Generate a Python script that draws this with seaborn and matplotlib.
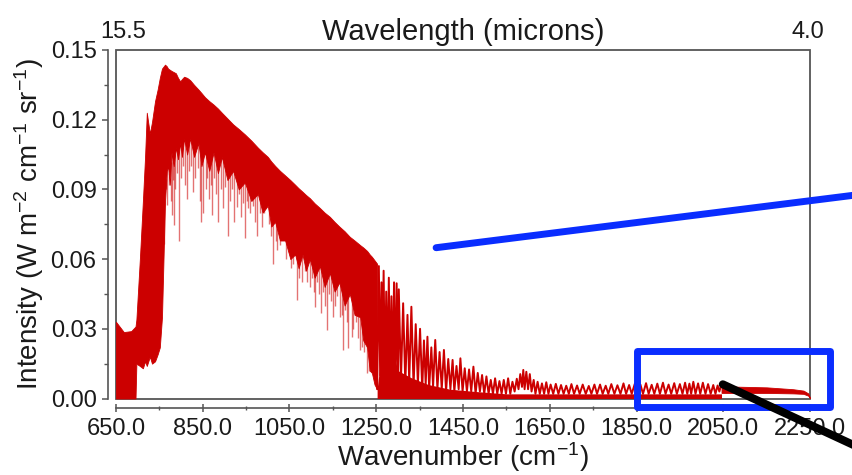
import numpy as np
import matplotlib
matplotlib.use("Agg")
import matplotlib.pyplot as plt
from matplotlib.patches import Rectangle, ConnectionPatch
from matplotlib.ticker import FixedLocator, FormatStrFormatter
from matplotlib.transforms import blended_transform_factory
import seaborn as sns

# ---- spectrum: dense emission band (650-1252 cm-1) ----
core_wn = [650, 668, 685, 695, 697, 705, 712, 717, 721, 728, 733, 740, 746, 751, 756,
           763, 767, 770, 774, 778, 783, 788, 793, 798, 802, 807, 814, 821, 830, 840,
           847, 855, 865, 875, 885, 894, 907, 920, 933, 947, 962, 977, 988, 1000, 1008,
           1017, 1028, 1040, 1052, 1063, 1071, 1080, 1088, 1097, 1108, 1120, 1131, 1143,
           1154, 1165, 1177, 1189, 1200, 1213, 1220, 1229, 1235, 1240, 1246, 1252]
core_top = [0.033, 0.0286, 0.029, 0.031, 0.034, 0.060, 0.085, 0.104, 0.123, 0.114, 0.119,
            0.128, 0.133, 0.138, 0.142, 0.1437, 0.143, 0.142, 0.1415, 0.141, 0.1405,
            0.140, 0.138, 0.1365, 0.1375, 0.1385, 0.138, 0.137, 0.135, 0.133, 0.1315,
            0.1297, 0.128, 0.1265, 0.1248, 0.123, 0.1205, 0.118, 0.116, 0.1137, 0.111,
            0.108, 0.106, 0.104, 0.102, 0.1001, 0.098, 0.096, 0.094, 0.092, 0.0905, 0.089,
            0.0876, 0.0862, 0.084, 0.082, 0.080, 0.0782, 0.076, 0.074, 0.072, 0.0696,
            0.068, 0.066, 0.065, 0.0635, 0.062, 0.061, 0.0595, 0.058]
core_bot = [0.0, 0.0, 0.0, 0.0, 0.015, 0.014, 0.013, 0.016, 0.014, 0.018, 0.015, 0.016,
            0.019, 0.022, 0.035, 0.085, 0.098, 0.100, 0.092, 0.106, 0.100, 0.108, 0.103,
            0.110, 0.104, 0.112, 0.105, 0.112, 0.104, 0.110, 0.100, 0.106, 0.098, 0.106,
            0.097, 0.104, 0.094, 0.098, 0.090, 0.093, 0.085, 0.088, 0.080, 0.083, 0.074,
            0.076, 0.068, 0.068, 0.060, 0.062, 0.056, 0.062, 0.055, 0.060, 0.052, 0.057,
            0.048, 0.054, 0.046, 0.050, 0.040, 0.045, 0.036, 0.035, 0.025, 0.022, 0.012,
            0.011, 0.006, 0.004]

# ---- absorption lines cutting below the band ----
dip_wn = [760, 765, 768, 773, 776, 778, 781, 783, 786, 791, 796, 801, 805, 809, 814, 818,
          822, 828, 833, 838, 843, 847, 851, 857, 860, 864, 868, 871, 876, 880, 886, 891,
          897, 902, 908, 913, 917, 922, 928, 933, 938, 942, 948, 952, 955, 960, 965, 970,
          976, 981, 986, 991, 997, 1003, 1007, 1013, 1018, 1022, 1027, 1035, 1043, 1048,
          1053, 1058, 1067, 1072, 1078, 1085, 1090, 1097, 1102, 1106, 1109, 1114, 1118,
          1122, 1128, 1132, 1136, 1141, 1146, 1151, 1156, 1160, 1166, 1170, 1174, 1178,
          1182, 1186, 1193, 1197, 1203, 1207, 1212, 1217, 1222, 1228, 1233]
dip_min = [0.095, 0.090, 0.0833, 0.092, 0.085, 0.079, 0.094, 0.0747, 0.090, 0.097, 0.068,
           0.095, 0.100, 0.092, 0.086, 0.098, 0.100, 0.089, 0.095, 0.099, 0.085, 0.076,
           0.0798, 0.090, 0.095, 0.086, 0.092, 0.079, 0.095, 0.088, 0.076, 0.090, 0.082,
           0.091, 0.070, 0.085, 0.090, 0.076, 0.0825, 0.088, 0.078, 0.084, 0.069, 0.085,
           0.082, 0.080, 0.083, 0.076, 0.070, 0.080, 0.074, 0.080, 0.0869, 0.075, 0.070,
           0.058, 0.068, 0.064, 0.066, 0.070, 0.060, 0.063, 0.056, 0.058, 0.0424, 0.052,
           0.050, 0.055, 0.050, 0.048, 0.052, 0.046, 0.0395, 0.050, 0.045, 0.0367, 0.046,
           0.040, 0.0295, 0.045, 0.042, 0.0352, 0.040, 0.044, 0.0352, 0.036, 0.0209, 0.038,
           0.033, 0.0217, 0.0266, 0.030, 0.033, 0.026, 0.0209, 0.022, 0.020, 0.0108, 0.012]

# ---- weak line structure beyond the band (peaks and gaps) ----
tail_wn = [1252, 1256, 1259, 1262, 1264, 1267, 1270, 1273, 1276, 1279, 1282, 1285, 1288,
           1291, 1294, 1297, 1300, 1302, 1307, 1312, 1317, 1322, 1326, 1331, 1336, 1341,
           1346, 1351, 1356, 1360, 1364, 1368, 1372, 1377, 1381, 1386, 1391, 1396, 1401,
           1406, 1411, 1416, 1421, 1426, 1430, 1435, 1440, 1444, 1449, 1454, 1459, 1464,
           1469, 1474, 1479, 1484, 1489, 1494, 1499, 1504, 1509, 1514, 1519, 1524, 1529,
           1534, 1539, 1544, 1549, 1554, 1559, 1564, 1569, 1574, 1578, 1582, 1586, 1589,
           1592, 1596, 1600, 1604, 1608, 1613, 1617, 1622, 1627, 1632, 1637, 1642, 1647,
           1652, 1658, 1664, 1670, 1676, 1682, 1688, 1694, 1700, 1706, 1713, 1719, 1726,
           1733, 1740, 1746, 1753, 1759, 1766, 1772, 1779, 1785, 1792, 1799, 1806, 1813,
           1820, 1826, 1833, 1839, 1846, 1852, 1859, 1865, 1872, 1878, 1885, 1891, 1898,
           1904, 1911, 1917, 1924, 1930, 1937, 1943, 1950, 1956, 1962, 1967, 1972, 1976,
           1981, 1986, 1992, 1997, 2003, 2009, 2015, 2021, 2027, 2032, 2037, 2041, 2046]
tail_val = [0.004, 0.057, 0.010, 0.050, 0.012, 0.055, 0.008, 0.046, 0.010, 0.052, 0.007,
            0.044, 0.009, 0.050, 0.006, 0.0496, 0.006, 0.047, 0.008, 0.041, 0.006, 0.036,
            0.007, 0.0395, 0.005, 0.032, 0.006, 0.030, 0.004, 0.025, 0.006, 0.0266, 0.004,
            0.022, 0.005, 0.0252, 0.004, 0.020, 0.004, 0.0209, 0.003, 0.017, 0.004, 0.0166,
            0.003, 0.014, 0.004, 0.0173, 0.003, 0.013, 0.003, 0.0125, 0.003, 0.0137, 0.002,
            0.011, 0.003, 0.0101, 0.002, 0.0095, 0.002, 0.008, 0.002, 0.0087, 0.002, 0.0075,
            0.002, 0.008, 0.002, 0.0087, 0.002, 0.0072, 0.003, 0.0085, 0.004, 0.0105, 0.005,
            0.0123, 0.004, 0.0115, 0.004, 0.0105, 0.003, 0.008, 0.002, 0.0072, 0.002, 0.0065,
            0.002, 0.0070, 0.002, 0.006, 0.002, 0.0063, 0.002, 0.0058, 0.002, 0.0055, 0.002,
            0.0062, 0.002, 0.0056, 0.002, 0.0060, 0.002, 0.0054, 0.002, 0.0060, 0.002,
            0.006, 0.002, 0.0055, 0.002, 0.0062, 0.002, 0.0057, 0.002, 0.0065, 0.002,
            0.0058, 0.002, 0.0063, 0.002, 0.0060, 0.002, 0.0066, 0.002, 0.0059, 0.002,
            0.0064, 0.002, 0.0068, 0.002, 0.006, 0.002, 0.0066, 0.002, 0.0062, 0.002,
            0.0068, 0.002, 0.0064, 0.002, 0.0072, 0.002, 0.0065, 0.002, 0.0068, 0.002,
            0.0062, 0.002, 0.0058, 0.002, 0.0056, 0.003, 0.0062]

# solid floor under the weak lines
floor_wn = [1252, 1265, 1285, 1300, 1330, 1370, 1420, 1480, 1550, 2046]
floor_val = [0.004, 0.025, 0.022, 0.012, 0.009, 0.006, 0.004, 0.003, 0.002, 0.002]

# ---- smooth high-wavenumber end ----
end_wn = [2046, 2081, 2150, 2211, 2235, 2246, 2250]
end_top = [0.0062, 0.0051, 0.0048, 0.0040, 0.0034, 0.0022, 0.0003]
end_bot = [0.0024, 0.0024, 0.0024, 0.0022, 0.0020, 0.0012, 0.0001]

# ---- axes ----
x_ticks = [650, 850, 1050, 1250, 1450, 1650, 1850, 2050, 2250]
x_minor = [750, 950, 1150, 1350, 1550, 1750, 1950, 2150]
y_ticks = [0.00, 0.03, 0.06, 0.09, 0.12, 0.15]
y_minor = [0.015, 0.045, 0.075, 0.105, 0.135]
top_labels = ["15.5", "4.0"]

RED = "#cc0000"
BLUE = "#0a2dff"
FRAME = "#555555"
INK = "#1a1a1a"

sns.set_theme(style="ticks")
plt.rcParams["font.family"] = ["Liberation Sans", "DejaVu Sans"]
plt.rcParams["mathtext.fontset"] = "custom"
plt.rcParams["mathtext.rm"] = "Liberation Sans"
plt.rcParams["mathtext.it"] = "Liberation Sans:italic"
plt.rcParams["mathtext.bf"] = "Liberation Sans:bold"

W, H = 853, 475
fig = plt.figure(figsize=(W / 100, H / 100), dpi=100)
ax = fig.add_axes([116 / W, 1 - 398.5 / H, (810 - 116) / W, (398.5 - 50) / H])
ax.set_xlim(650, 2250)
ax.set_ylim(0, 0.15)

# spectrum
ax.fill_between(core_wn, core_bot, core_top, color=RED, lw=0.6, edgecolor=RED, zorder=3)
dip_top = np.interp(dip_wn, core_wn, core_bot) + 0.003
ax.vlines(dip_wn, dip_min, dip_top, color=RED, lw=1.0, alpha=0.55, zorder=3)
ax.fill_between(floor_wn, 0, floor_val, color=RED, lw=0, zorder=3)
sns.lineplot(x=tail_wn, y=tail_val, ax=ax, color=RED, lw=1.4, estimator=None,
             sort=False, zorder=3)
ax.fill_between(end_wn, end_bot, end_top, color=RED, lw=0.6, edgecolor=RED, zorder=3)

# frame box plus offset left/bottom axis lines
ax.add_patch(Rectangle((0, 0), 1, 1, transform=ax.transAxes, fill=False,
                       ec=FRAME, lw=1.3, clip_on=False, zorder=2))
for s in ["top", "right"]:
    ax.spines[s].set_visible(False)
ax.spines["left"].set_position(("outward", 6))
ax.spines["bottom"].set_position(("outward", 7))
for s in ["left", "bottom"]:
    ax.spines[s].set_color(FRAME)
    ax.spines[s].set_linewidth(1.2)

ax.xaxis.set_major_locator(FixedLocator(x_ticks))
ax.xaxis.set_minor_locator(FixedLocator(x_minor))
ax.yaxis.set_major_locator(FixedLocator(y_ticks))
ax.yaxis.set_minor_locator(FixedLocator(y_minor))
ax.xaxis.set_major_formatter(FormatStrFormatter("%.1f"))
ax.yaxis.set_major_formatter(FormatStrFormatter("%.2f"))
ax.tick_params(axis="x", which="major", direction="inout", length=6, width=1.1,
               color=FRAME, labelsize=17, pad=4, labelcolor=INK)
ax.tick_params(axis="x", which="minor", direction="inout", length=3.5, width=1.0,
               color=FRAME)
ax.tick_params(axis="y", which="major", direction="out", length=4, width=1.1,
               color=FRAME, labelsize=17, pad=4, labelcolor=INK)
ax.tick_params(axis="y", which="minor", direction="out", length=3, width=1.0,
               color=FRAME)

ax.set_xlabel("Wavenumber (cm$^{-1}$)", fontsize=20, labelpad=0.5, color=INK)
ax.set_ylabel("Intensity (W m$^{-2}$ cm$^{-1}$ sr$^{-1}$)", fontsize=20, labelpad=3,
              color=INK)

# wavelength scale along the top
tr = blended_transform_factory(ax.transData, ax.transAxes)
ax.annotate(top_labels[0], xy=(x_ticks[0], 1.0), xycoords=tr, xytext=(5, 9),
            textcoords="offset points", ha="center", va="baseline", fontsize=17,
            color=INK, annotation_clip=False)
ax.annotate(top_labels[1], xy=(x_ticks[-1], 1.0), xycoords=tr, xytext=(-1.5, 9),
            textcoords="offset points", ha="center", va="baseline", fontsize=17,
            color=INK, annotation_clip=False)
ax.text(0.5, 1.03, "Wavelength (microns)", transform=ax.transAxes, ha="center",
        va="baseline", fontsize=21, color=INK)

# callouts: highlighted band and leader lines
ax.add_patch(Rectangle((1850, -0.0037), 2296 - 1850, 0.0205 + 0.0037, fill=False,
                       ec=BLUE, lw=5, joinstyle="round", clip_on=False, zorder=6))
blue_leader = ConnectionPatch(xyA=(1388, 0.0649), coordsA="data", axesA=ax,
                              xyB=(1.032, 0.596), coordsB="figure fraction",
                              color=BLUE, lw=5, arrowstyle="-", shrinkA=0, shrinkB=0,
                              zorder=6)
fig.add_artist(blue_leader)
black_leader = ConnectionPatch(xyA=(2049, 0.0061), coordsA="data", axesA=ax,
                               xyB=(1.032, 0.037), coordsB="figure fraction",
                               color="black", lw=5.8, arrowstyle="-", shrinkA=0,
                               shrinkB=0, zorder=7)
fig.add_artist(black_leader)

fig.savefig("out.png", dpi=100)
